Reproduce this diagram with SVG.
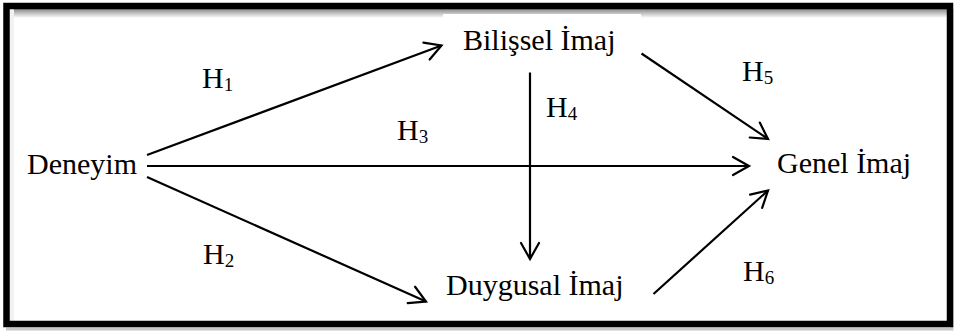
<svg xmlns="http://www.w3.org/2000/svg" width="955" height="331" viewBox="0 0 955 331">
  <defs>
    <linearGradient id="topShade" x1="0" y1="0" x2="0" y2="1">
      <stop offset="0" stop-color="#8a8a8a"/>
      <stop offset="1" stop-color="#ffffff"/>
    </linearGradient>
    <marker id="arr" markerUnits="userSpaceOnUse" markerWidth="24" markerHeight="24" viewBox="-20 -12 24 24" refX="0" refY="0" orient="auto">
      <path d="M-16,-9 L0,0 L-16,9" fill="none" stroke="#000" stroke-width="2.2" stroke-linecap="round" stroke-linejoin="miter"/>
    </marker>
    <style>
      .lbl { font-family: "Liberation Serif", "Times New Roman", serif; font-size: 30px; fill: #000; }
      .sub { font-size: 19px; }
      .edge { stroke: #000; stroke-width: 2.2; fill: none; marker-end: url(#arr); }
    </style>
  </defs>
  <rect x="0" y="0" width="955" height="331" fill="#fff"/>
  <g id="frame">
    <rect x="9" y="9" width="938" height="9" fill="url(#topShade)"/>
    <rect x="9" y="9" width="5" height="312" fill="#f2f2f2"/>
    <path d="M952,9 L952,329 L6,329" fill="none" stroke="#c8c8c8" stroke-width="3"/>
    <rect x="6.5" y="6" width="943.5" height="318" fill="none" stroke="#000" stroke-width="6.5"/>
  </g>
  <g id="node-bilissel">
    <rect x="443" y="14" width="198" height="48" fill="#fff"/>
    <text class="lbl" x="463" y="50">Bilişsel İmaj</text>
  </g>
  <g id="node-deneyim">
    <text class="lbl" x="27" y="174">Deneyim</text>
  </g>
  <g id="node-genel">
    <text class="lbl" x="777" y="173">Genel İmaj</text>
  </g>
  <g id="node-duygusal">
    <text class="lbl" x="446" y="295">Duygusal İmaj</text>
  </g>
  <g id="connectors">
    <line class="edge" x1="147" y1="155" x2="441.5" y2="45.5"/>
    <line class="edge" x1="147" y1="166" x2="749" y2="166"/>
    <line class="edge" x1="147" y1="177" x2="426" y2="301.5"/>
    <line class="edge" x1="530" y1="72.5" x2="530" y2="259"/>
    <line class="edge" x1="641.5" y1="53.5" x2="768" y2="139"/>
    <line class="edge" x1="653.5" y1="294" x2="768" y2="190.5"/>
  </g>
  <g id="edge-labels">
    <text class="lbl" x="202" y="88">H<tspan class="sub" dy="3">1</tspan></text>
    <text class="lbl" x="203" y="264">H<tspan class="sub" dy="3">2</tspan></text>
    <text class="lbl" x="397" y="140">H<tspan class="sub" dy="3">3</tspan></text>
    <text class="lbl" x="546" y="117">H<tspan class="sub" dy="3">4</tspan></text>
    <text class="lbl" x="742" y="81">H<tspan class="sub" dy="3">5</tspan></text>
    <text class="lbl" x="743" y="281">H<tspan class="sub" dy="3">6</tspan></text>
  </g>
</svg>
